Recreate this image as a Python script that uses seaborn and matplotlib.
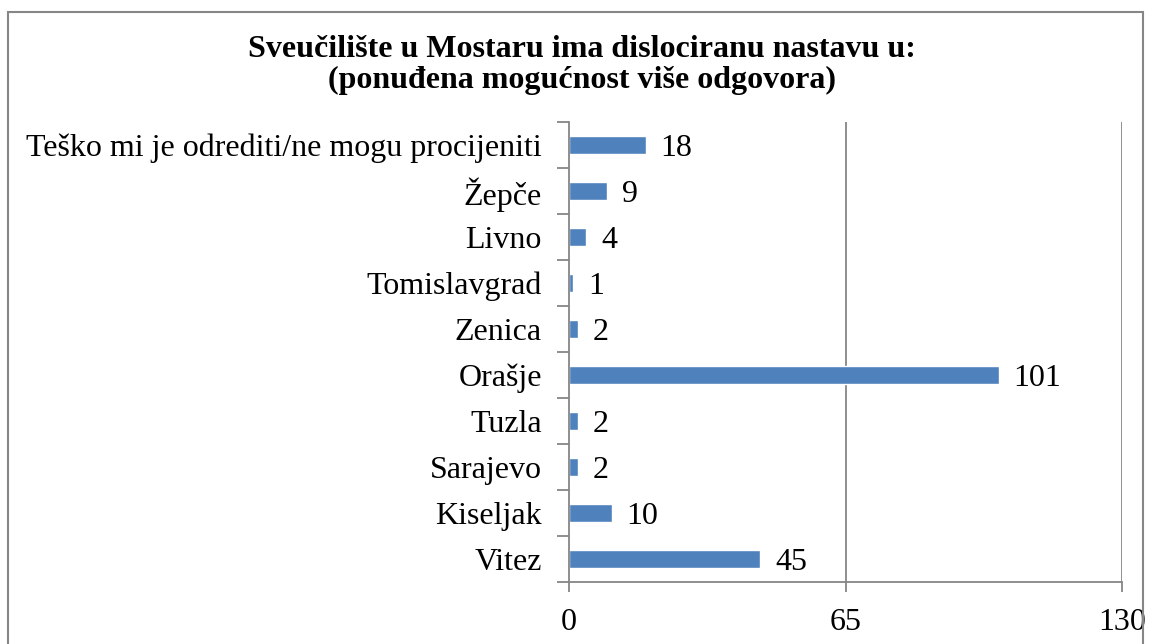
import matplotlib
matplotlib.use('Agg')
import matplotlib.pyplot as plt
import matplotlib.patches as patches
from matplotlib.ticker import FixedLocator
import seaborn as sns
import pandas as pd

# podaci (odozgo prema dolje)
categories = ['Teško mi je odrediti/ne mogu procijeniti', 'Žepče', 'Livno', 'Tomislavgrad',
              'Zenica', 'Orašje', 'Tuzla', 'Sarajevo', 'Kiseljak', 'Vitez']
values = [18, 9, 4, 1, 2, 101, 2, 2, 10, 45]
x_ticks = [0, 65, 130]

df = pd.DataFrame({'grad': categories, 'broj': values})

sns.set_style('white')
plt.rcParams['font.family'] = ['Liberation Serif', 'DejaVu Serif']
plt.rcParams['text.color'] = 'black'
plt.rcParams['xtick.labelcolor'] = 'black'
plt.rcParams['ytick.labelcolor'] = 'black'

fig = plt.figure(figsize=(11.5, 6.44), dpi=100)
ax = fig.add_axes([0.4948, 0.0963, 0.4809, 0.7143])

sns.barplot(data=df, x='broj', y='grad', color='#4F81BD', width=0.41, ax=ax, saturation=1)

for i, v in enumerate(values):
    ax.text(v + 3.5, i, str(v), va='center_baseline', ha='left', fontsize=23, color='black')

ax.set_xlim(0, 130)
ax.set_ylim(len(categories) - 0.5, -0.5)
ax.set_xticks(x_ticks)
ax.set_xticklabels([str(t) for t in x_ticks], fontsize=23)
ax.tick_params(axis='x', bottom=True, length=7, width=1.3, color='#868686', labelcolor='black',
               pad=12, direction='out')
ax.set_yticks(range(len(categories)))
ax.set_yticklabels(categories, fontsize=23)
ax.tick_params(axis='y', which='major', left=True, length=0, pad=19.5, labelcolor='black')
ax.yaxis.set_minor_locator(FixedLocator([i - 0.5 for i in range(len(categories) + 1)]))
ax.tick_params(axis='y', which='minor', left=True, length=9, width=1.3, color='#868686', direction='out')
ax.set_xlabel('')
ax.set_ylabel('')

ax.grid(False)
for x in x_ticks[1:]:
    ax.axvline(x, color='#868686', lw=1.3, zorder=0)

for s in ['top', 'right']:
    ax.spines[s].set_visible(False)
for s in ['left', 'bottom']:
    ax.spines[s].set_color('#868686')
    ax.spines[s].set_linewidth(1.3)

fig.text(0.506, 0.899, 'Sveučilište u Mostaru ima dislociranu nastavu u:\n(ponuđena mogućnost više odgovora)',
         ha='center', va='center', fontsize=23, fontweight='bold', linespacing=1.1, color='black')

# okvir oko grafikona
fig.patches.append(patches.Rectangle((8 / 1150, -0.05), (1143 - 8) / 1150, 1.05 - 12 / 644,
                                     transform=fig.transFigure, fill=False,
                                     edgecolor='#868686', lw=1.5))

fig.savefig('out.png', dpi=100)
